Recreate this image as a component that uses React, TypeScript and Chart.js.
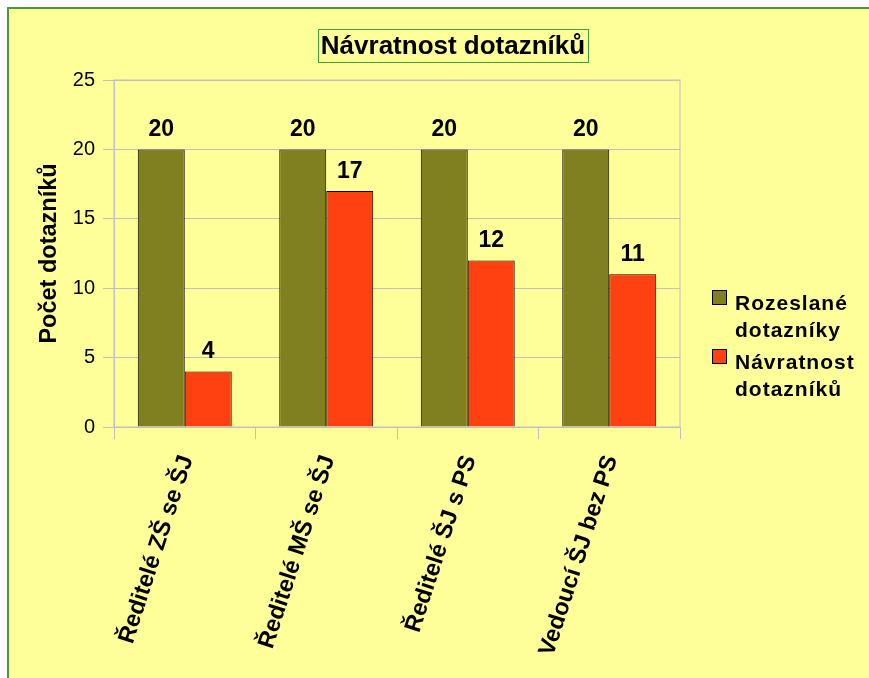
import React, { useEffect, useRef } from "react";
import { Chart, registerables } from "chart.js";

Chart.register(...registerables);

const categories = ["Ředitelé ZŠ se ŠJ", "Ředitelé MŠ se ŠJ", "Ředitelé ŠJ s PS", "Vedoucí ŠJ bez PS"];
const sentValues = [20, 20, 20, 20];
const returnedValues = [4, 17, 12, 11];
const seriesNames = [["Rozeslané", "dotazníky"], ["Návratnost", "dotazníků"]];
const chartTitle = "Návratnost dotazníků";
const yAxisTitle = "Počet dotazníků";
const yTicks = { min: 0, max: 25, step: 5 };

const FONT = "'Liberation Sans', Arial, sans-serif";
const GREEN = "#808020";
const RED = "#FF4010";
const GRID = "#c0c0c0";

export default function App() {
  const ref = useRef<HTMLCanvasElement | null>(null);

  useEffect(() => {
    if (!ref.current) return;

    const plotBorder = {
      id: "plotBorder",
      beforeDatasetsDraw(chart: any) {
        const { ctx, chartArea: a } = chart;
        ctx.save();
        ctx.strokeStyle = GRID;
        ctx.lineWidth = 1;
        ctx.strokeRect(a.left, a.top, a.right - a.left, a.bottom - a.top);
        ctx.restore();
      },
    };

    const dataLabels = {
      id: "dataLabels",
      afterDatasetsDraw(chart: any) {
        const { ctx } = chart;
        ctx.save();
        ctx.font = `bold 23px ${FONT}`;
        ctx.fillStyle = "#000";
        ctx.textAlign = "center";
        ctx.textBaseline = "alphabetic";
        chart.data.datasets.forEach((ds: any, i: number) => {
          const meta = chart.getDatasetMeta(i);
          meta.data.forEach((el: any, j: number) => {
            ctx.fillText(String(ds.data[j]), el.x, el.y - 13);
          });
        });
        ctx.restore();
      },
    };

    const titleBox = {
      id: "titleBox",
      afterDraw(chart: any) {
        const { ctx } = chart;
        ctx.save();
        ctx.font = `bold 26px ${FONT}`;
        ctx.textAlign = "center";
        ctx.textBaseline = "middle";
        const w = ctx.measureText(chartTitle).width;
        const cx = 453;
        const cy = 46;
        ctx.strokeStyle = "#40a040";
        ctx.lineWidth = 1;
        ctx.strokeRect(Math.round(cx - w / 2 - 3) + 0.5, 29.5, Math.round(w + 6), 33);
        ctx.fillStyle = "#000";
        ctx.fillText(chartTitle, cx, cy + 1);
        ctx.restore();
      },
    };

    const legendBox = {
      id: "legendBox",
      afterDraw(chart: any) {
        const { ctx } = chart;
        ctx.save();
        const colors = [GREEN, RED];
        const boxY = [290, 349];
        ctx.font = `bold 21px ${FONT}`;
        (ctx as any).letterSpacing = "1px";
        ctx.textAlign = "left";
        ctx.textBaseline = "alphabetic";
        seriesNames.forEach((lines, i) => {
          ctx.fillStyle = colors[i];
          ctx.fillRect(712, boxY[i], 14, 14);
          ctx.strokeStyle = "#000";
          ctx.lineWidth = 1;
          ctx.strokeRect(712.5, boxY[i] + 0.5, 14, 14);
          ctx.fillStyle = "#000";
          lines.forEach((t, k) => {
            ctx.fillText(t, 735, boxY[i] + 20 + k * 27);
          });
        });
        ctx.restore();
      },
    };

    const chart = new Chart(ref.current, {
      type: "bar",
      data: {
        labels: categories,
        datasets: [
          {
            label: seriesNames[0].join(" "),
            data: sentValues,
            backgroundColor: GREEN,
            borderColor: "#000",
            borderWidth: 1,
            categoryPercentage: 0.664,
            barPercentage: 1,
          },
          {
            label: seriesNames[1].join(" "),
            data: returnedValues,
            backgroundColor: RED,
            borderColor: "#000",
            borderWidth: 1,
            categoryPercentage: 0.664,
            barPercentage: 1,
          },
        ],
      },
      options: {
        animation: false,
        responsive: false,
        layout: { padding: { left: 30, top: 80, right: 189, bottom: 0 } },
        plugins: {
          legend: { display: false },
          title: { display: false },
          tooltip: { enabled: false },
        },
        scales: {
          x: {
            afterFit(scale: any) {
              scale.height = 251;
            },
            grid: {
              drawOnChartArea: false,
              drawTicks: true,
              tickLength: 12,
              color: GRID,
              offset: true,
            },
            border: { display: true, color: GRID, width: 1 },
            ticks: {
              autoSkip: false,
              maxRotation: 72,
              minRotation: 72,
              padding: 13,
              labelOffset: 2,
              color: "#000",
              font: { family: FONT, size: 23.5, weight: "bold" },
            },
          },
          y: {
            min: yTicks.min,
            max: yTicks.max,
            afterFit(scale: any) {
              scale.width = 84;
            },
            grid: { color: GRID, tickLength: 11, drawTicks: true },
            border: { display: true, color: GRID, width: 1 },
            ticks: {
              stepSize: yTicks.step,
              padding: 8,
              color: "#000",
              font: { family: FONT, size: 20 },
            },
            title: {
              display: true,
              text: yAxisTitle,
              color: "#000",
              padding: { top: 5, bottom: 0 },
              font: { family: FONT, size: 23.5, weight: "bold" },
            },
          },
        },
      },
      plugins: [plotBorder, dataLabels, titleBox, legendBox],
    } as any);

    return () => chart.destroy();
  }, []);

  return (
    <div>
      <div
        style={{
          position: "fixed",
          left: 7,
          top: 7,
          right: 0,
          bottom: 0,
          background: "#FFFF99",
          borderLeft: "2px solid #4b9a3a",
          borderTop: "2px solid #4b9a3a",
        }}
      />
      <canvas
        ref={ref}
        width={869}
        height={678}
        style={{ position: "fixed", left: 0, top: 0, width: 869, height: 678 }}
      />
    </div>
  );
}
